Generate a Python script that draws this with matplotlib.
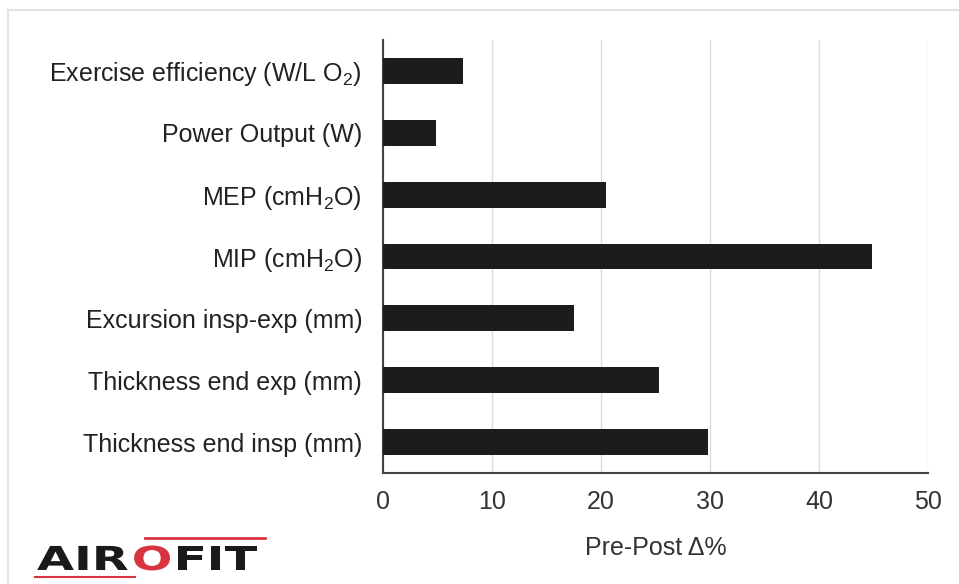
import matplotlib
matplotlib.use("Agg")
from matplotlib import pyplot as plt
from matplotlib.patches import Rectangle, PathPatch
from matplotlib.lines import Line2D
from matplotlib.textpath import TextPath
from matplotlib.font_manager import FontProperties
from matplotlib.transforms import Affine2D

plt.rcParams['font.family'] = ['Liberation Sans', 'DejaVu Sans']
plt.rcParams['mathtext.default'] = 'regular'

# data, top to bottom as shown
labels = ["Exercise efficiency (W/L O$_2$)",
          "Power Output (W)",
          "MEP (cmH$_2$O)",
          "MIP (cmH$_2$O)",
          "Excursion insp-exp (mm)",
          "Thickness end exp (mm)",
          "Thickness end insp (mm)"]
values = [7.3, 4.9, 20.5, 44.9, 17.5, 25.3, 29.8]
xticks = [0, 10, 20, 30, 40, 50]

W, H = 959, 584
fig = plt.figure(figsize=(W / 100, H / 100), dpi=100)
ax = fig.add_axes([383 / W, 1 - 473 / H, (928 - 383) / W, (473 - 40) / H])

ypos = list(range(len(labels)))[::-1]
ax.barh(ypos, values, height=0.42, color="#1c1c1c", zorder=3)

ax.set_xlim(0, 50)
ax.set_ylim(-0.5, len(labels) - 0.5)
ax.set_xticks(xticks)
ax.set_yticks(ypos)
ax.set_yticklabels(labels)
ax.tick_params(axis='y', length=0, pad=15, labelsize=18, colors="#222222")
ax.tick_params(axis='x', length=0, pad=12, labelsize=18, colors="#333333")
ax.grid(axis='x', color="#dcdcdc", linewidth=1, zorder=0)
ax.set_xlabel("Pre-Post Δ%", fontsize=18, color="#333333", labelpad=16)

for s in ["top", "right"]:
    ax.spines[s].set_visible(False)
for s in ["left", "bottom"]:
    ax.spines[s].set_color("#444444")
    ax.spines[s].set_linewidth(1.5)

# light frame round the picture
fig.patches.append(Rectangle((8 / W, -0.01), 1.0, 1 - 10 / H + 0.01,
                             transform=fig.transFigure, fill=False,
                             edgecolor="#e3e3e3", linewidth=1.5))

# logo, wide letters drawn as stretched text paths (pixel coords)
fp = FontProperties(family="DejaVu Sans", weight="bold")
sx = 1.45
x0 = 37
for part, col in [("AIR", "#1a1a1a"), ("O", "#d8343f"), ("FIT", "#1a1a1a")]:
    tp = TextPath((0, 0), part, size=33, prop=fp)
    ext = tp.get_extents()
    tr = Affine2D().scale(sx, 1.0).translate(x0, H - 570)
    fig.add_artist(PathPatch(tp, transform=tr, facecolor=col, edgecolor="none"))
    x0 += ext.x1 * sx + 4
fig.lines.append(Line2D([145 / W, 265 / W], [1 - 538 / H, 1 - 538 / H],
                        transform=fig.transFigure, color="#d8343f", linewidth=2))
fig.lines.append(Line2D([35 / W, 135 / W], [1 - 577 / H, 1 - 577 / H],
                        transform=fig.transFigure, color="#d8343f", linewidth=1.5))

fig.savefig("out.png", dpi=100)
